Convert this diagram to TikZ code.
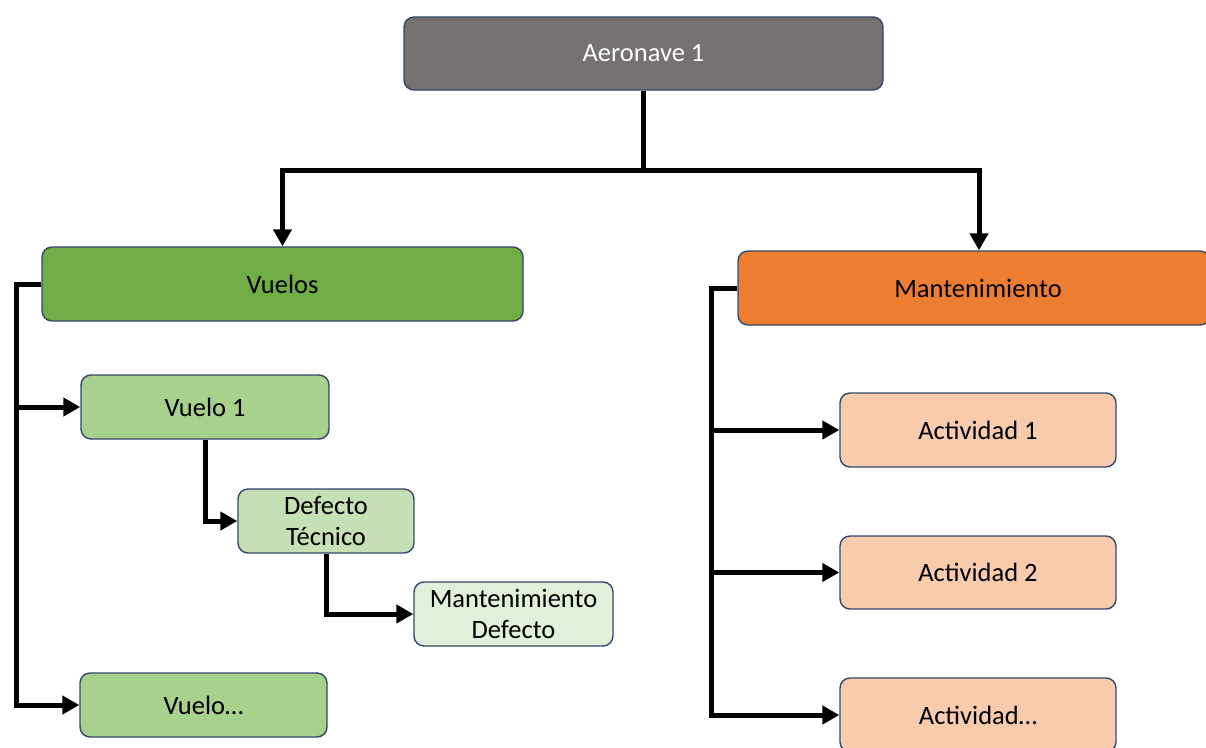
\documentclass[tikz,border=0pt]{standalone}
\usepackage{fontspec}
\setmainfont{Carlito}
\usetikzlibrary{arrows.meta}
\definecolor{bordc}{HTML}{34466A}
\definecolor{topc}{HTML}{767171}
\definecolor{vgreen}{HTML}{70AD47}
\definecolor{lgreen}{HTML}{A9D18E}
\definecolor{llgreen}{HTML}{C5E0B4}
\definecolor{lllgreen}{HTML}{E2F0D9}
\definecolor{morange}{HTML}{ED7D31}
\definecolor{lorange}{HTML}{F8CBAD}
\tikzset{
  box/.style={draw=bordc, line width=1.4pt, rounded corners=10pt, align=center,
    inner sep=0pt, font=\fontsize{26.5}{31}\selectfont, text=black},
  conn/.style={line width=5pt, -{Triangle[length=17pt,width=18pt]}},
  plain/.style={line width=5pt}
}
\begin{document}
\begin{tikzpicture}[x=1pt,y=-1pt]
\clip (0,0) rectangle (1206,747);
\fill[white] (0,0) rectangle (1206,747);
\node[box, fill=topc, text=white, minimum width=479pt, minimum height=73pt] (a) at (643.5,53.5) {Aeronave 1};
\node[box, fill=vgreen, minimum width=481pt, minimum height=74pt] (vuelos) at (282.5,284) {Vuelos};
\node[box, fill=morange, minimum width=472pt, minimum height=74pt] (mant) at (974,288) {\hspace*{8pt}Mantenimiento};
\node[box, fill=lgreen, minimum width=248pt, minimum height=64pt] (v1) at (205,407) {Vuelo 1};
\node[box, fill=llgreen, minimum width=176pt, minimum height=64pt] (dt) at (326,521) {Defecto\\Técnico};
\node[box, fill=lllgreen, minimum width=199pt, minimum height=64pt] (md) at (513.5,614) {Mantenimiento\\Defecto};
\node[box, fill=lgreen, minimum width=247pt, minimum height=64pt] (vn) at (203.5,705) {Vuelo…};
\node[box, fill=lorange, minimum width=276pt, minimum height=74pt] (a1) at (978,430) {Actividad 1};
\node[box, fill=lorange, minimum width=276pt, minimum height=73pt] (a2) at (978,572.5) {Actividad 2};
\node[box, fill=lorange, minimum width=276pt, minimum height=74pt] (an) at (978,715) {Actividad…};
% top connectors
\draw[plain] (a.south) -- ++(0,80) coordinate (tb);
\draw[conn] (tb) -| (vuelos.north);
\draw[conn] (tb) -| ([xshift=5pt]mant.north);
% left bus
\draw[conn] (vuelos.west) -- ++(-25,0) coordinate (lb) |- (vn.west);
\draw[conn] (lb |- v1.west) -- (v1.west);
\draw[conn] (v1.south) |- (dt.west);
\draw[conn] (dt.south) |- (md.west);
% right bus
\draw[conn] (mant.west) -- ++(-26,0) coordinate (rb) |- (an.west);
\draw[conn] (rb |- a1.west) -- (a1.west);
\draw[conn] (rb |- a2.west) -- (a2.west);
\end{tikzpicture}
\end{document}
